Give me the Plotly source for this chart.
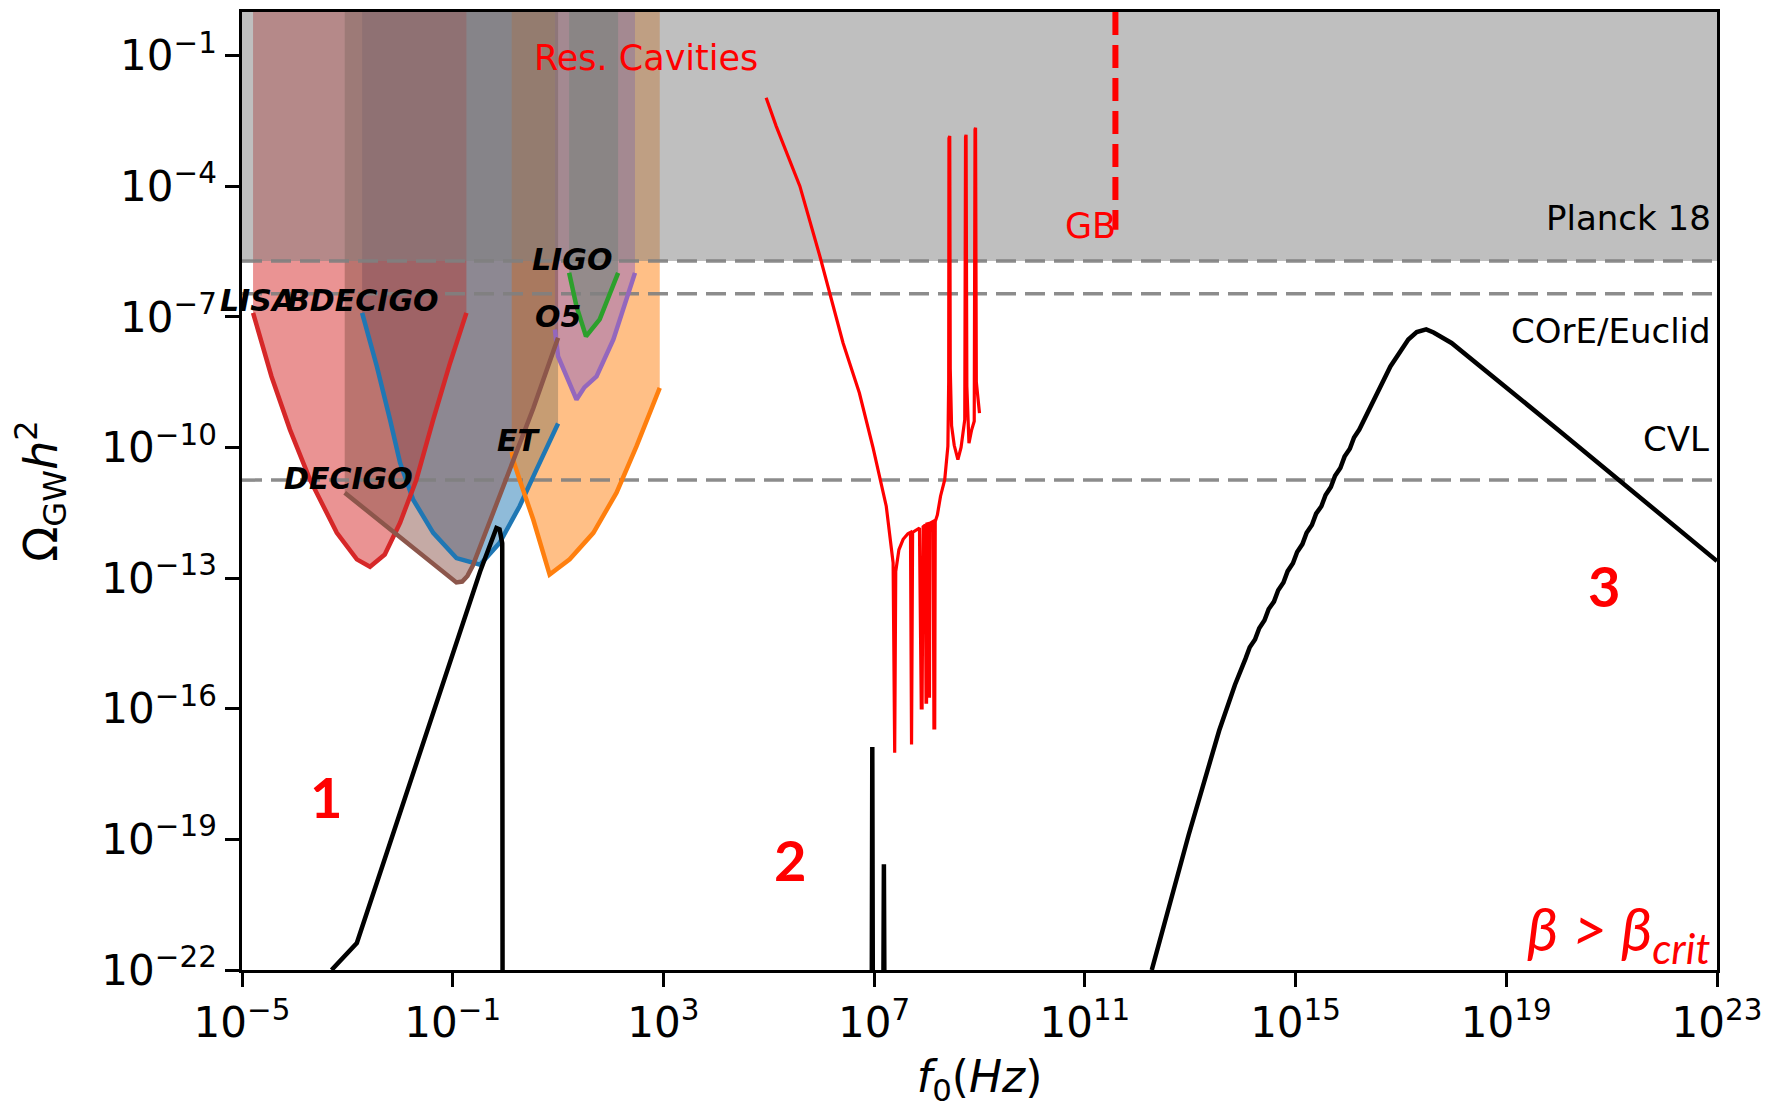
import numpy as np
import plotly.graph_objects as go

# ---------------- data (log10 f [Hz], log10 Omega h^2) ----------------
# detector sensitivity curves
bdecigo_x = [-2.72, -2.44, -2.19, -2.00, -1.75, -1.37, -0.93, -0.48, -0.11, 0.27, 0.59, 1.00]
bdecigo_y = [-6.91, -8.14, -9.36, -10.35, -11.20, -11.96, -12.54, -12.69, -12.19, -11.35, -10.51, -9.45]

et_x = [0.12, 0.15, 0.27, 0.53, 0.84, 1.22, 1.67, 2.11, 2.49, 2.93]
et_y = [-10.10, -10.30, -10.74, -11.66, -12.92, -12.57, -11.96, -11.04, -9.97, -8.63]

ligo_x = [1.21, 1.35, 1.53, 1.73, 1.79, 2.14]
ligo_y = [-5.99, -6.76, -7.45, -7.14, -7.06, -5.99]

lisa_x = [-4.79, -4.44, -4.09, -3.71, -3.20, -2.82, -2.57, -2.29, -2.00, -1.69, -1.37, -1.05, -0.74]
lisa_y = [-6.91, -8.37, -9.59, -10.74, -11.96, -12.57, -12.74, -12.46, -11.73, -10.74, -9.36, -8.06, -6.91]

o5_x = [0.94, 1.00, 1.35, 1.50, 1.73, 2.05, 2.42, 2.46]
o5_y = [-7.29, -7.91, -8.90, -8.62, -8.37, -7.52, -6.14, -5.99]

decigo_x = [-3.05, -0.93, -0.82, -0.72, -0.62, 0.15, 0.53, 1.00]
decigo_y = [-11.04, -13.10, -13.08, -12.95, -12.72, -10.30, -9.10, -7.48]

# horizontal constraints
planck_y = -5.72
core_y = -6.47
cvl_y = -10.75

# GW spectra (black)
spec1_x = [-3.30, -2.82, -0.48, -0.30, -0.17, -0.11, -0.06, -0.054]
spec1_y = [-22.0, -21.38, -12.85, -12.25, -11.85, -11.88, -12.20, -22.0]

spec2_x = [6.955, 6.965, 6.975, 7.175, 7.185, 7.195]
spec2_y = [-22.5, -16.88, -22.5, -22.5, -19.57, -22.5]

spec3_x = [12.27, 12.97, 13.55, 13.85, 14.05,
           14.13, 14.23, 14.31, 14.41, 14.49, 14.59, 14.67, 14.77, 14.85, 14.95,
           15.03, 15.13, 15.21, 15.31, 15.39, 15.49, 15.57, 15.67, 15.75, 15.85,
           15.93, 16.03, 16.11, 16.21,
           16.50, 16.80, 17.14, 17.30, 17.48, 17.62, 17.96, 20.01, 23.0]
spec3_y = [-22.0, -18.9, -16.5, -15.45, -14.85,
           -14.59, -14.41, -14.15, -13.97, -13.71, -13.54, -13.28, -13.10, -12.84, -12.66,
           -12.40, -12.22, -11.96, -11.78, -11.52, -11.35, -11.09, -10.91, -10.65, -10.47,
           -10.21, -10.03, -9.77, -9.59,
           -8.85, -8.14, -7.52, -7.35, -7.29, -7.36, -7.60, -9.62, -12.61]

# resonant cavities (red)
cav_x = [4.95, 5.14, 5.59, 5.97, 6.41, 6.72, 6.98, 7.23, 7.36,
         7.375, 7.39, 7.41, 7.47, 7.55, 7.64, 7.69, 7.70, 7.71, 7.73, 7.77, 7.86,
         7.895, 7.91, 7.93, 7.97, 7.985, 7.995, 8.00, 8.03, 8.04, 8.05, 8.06, 8.09, 8.12, 8.135, 8.15, 8.16,
         8.20, 8.26, 8.34, 8.40, 8.415, 8.42, 8.435, 8.445, 8.47, 8.52, 8.59, 8.65, 8.72,
         8.735, 8.745, 8.76, 8.80, 8.85, 8.90, 8.915, 8.925, 8.94, 8.97, 9.00]
cav_y = [-1.97, -2.62, -4.00, -5.61, -7.60, -8.75, -10.01, -11.35, -12.65,
         -17.01, -17.01, -12.85, -12.35, -12.11, -11.98, -11.95, -16.82, -16.82, -11.95, -11.92, -11.85,
         -15.98, -15.98, -11.82, -11.78, -15.85, -15.85, -11.76, -11.75, -15.71, -15.71, -11.74, -11.72, -11.70, -16.44, -16.44, -11.70,
         -11.55, -11.12, -10.74, -9.97, -8.50, -2.90, -2.85, -8.20, -9.50, -9.95, -10.28, -10.00, -9.36,
         -2.87, -2.82, -8.60, -9.90, -9.60, -9.40, -2.70, -2.66, -8.50, -8.90, -9.21]

gb_x = [11.58, 11.58]
gb_y = [0.0, -5.0]

x_tick_exp = [-5, -1, 3, 7, 11, 15, 19, 23]
y_tick_exp = [-1, -4, -7, -10, -13, -16, -19, -22]

# ---------------- figure ----------------
def p10(a):
    return list(10.0 ** np.asarray(a, dtype=float))

colors = {
    "BDECIGO": "#1f77b4", "ET": "#ff7f0e", "LIGO": "#2ca02c",
    "LISA": "#d62728", "O5": "#9467bd", "DECIGO": "#8c564b",
}
fills = {
    "BDECIGO": "rgba(31,119,180,0.5)", "ET": "rgba(255,127,14,0.5)", "LIGO": "rgba(44,160,44,0.5)",
    "LISA": "rgba(214,39,40,0.5)", "O5": "rgba(148,103,189,0.5)", "DECIGO": "rgba(140,86,75,0.5)",
}
detectors = [
    ("BDECIGO", bdecigo_x, bdecigo_y), ("ET", et_x, et_y), ("LIGO", ligo_x, ligo_y),
    ("LISA", lisa_x, lisa_y), ("O5", o5_x, o5_y), ("DECIGO", decigo_x, decigo_y),
]

fig = go.Figure()

# detector fills (curve up to top of plot)
for name, xs, ys in detectors:
    px = list(xs) + [xs[-1], xs[0]]
    py = list(ys) + [0.0, 0.0]
    fig.add_trace(go.Scatter(x=p10(px), y=p10(py), fill="toself", fillcolor=fills[name],
                             mode="lines", line=dict(width=0), hoverinfo="skip", showlegend=False))

# Planck 18 excluded region
fig.add_trace(go.Scatter(x=p10([-5, 23, 23, -5]), y=p10([planck_y, planck_y, 0, 0]), fill="toself",
                         fillcolor="rgba(128,128,128,0.5)", mode="lines", line=dict(width=0),
                         hoverinfo="skip", showlegend=False))

# dashed constraint lines
for yv in [planck_y, core_y, cvl_y]:
    fig.add_trace(go.Scatter(x=p10([-5, 23]), y=p10([yv, yv]), mode="lines",
                             line=dict(color="rgba(128,128,128,0.9)", width=3.5, dash="20px,9px"),
                             hoverinfo="skip", showlegend=False))

# detector curves
for name, xs, ys in detectors:
    fig.add_trace(go.Scatter(x=p10(xs), y=p10(ys), mode="lines",
                             line=dict(color=colors[name], width=4.5), showlegend=False))

# GW spectra
for xs, ys in [(spec1_x, spec1_y), (spec2_x, spec2_y), (spec3_x, spec3_y)]:
    fig.add_trace(go.Scatter(x=p10(xs), y=p10(ys), mode="lines",
                             line=dict(color="black", width=4.5), showlegend=False))

# resonant cavities
fig.add_trace(go.Scatter(x=p10(cav_x), y=p10(cav_y), mode="lines",
                         line=dict(color="#ff0000", width=3.2), showlegend=False))
# GB
fig.add_trace(go.Scatter(x=p10(gb_x), y=p10(gb_y), mode="lines",
                         line=dict(color="#ff0000", width=6, dash="23px,10px"), showlegend=False))

ann = []
def label(x, y, text, size, color="black", xanchor="left", family="DejaVu Sans",
          weight="normal", style="normal", xref="x"):
    ann.append(dict(x=x, y=y, xref=xref, yref="y", text=text, showarrow=False,
                    xanchor=xanchor, yanchor="middle",
                    font=dict(family=family, size=size, color=color, weight=weight, style=style)))

# detector labels
label((-5.455 + 5) / 28.0, -6.63, "LISA", 30, weight="bold", style="italic", xref="paper")
for txt, x, y in [("BDECIGO", -4.18, -6.63), ("LIGO", 0.46, -5.69),
                  ("O5", 0.52, -6.99), ("DECIGO", -4.24, -10.71), ("ET", -0.20, -9.84)]:
    label(x, y, txt, 30, weight="bold", style="italic")

label(22.92, -4.74, "Planck 18", 34, xanchor="right")
label(22.92, -7.32, "COrE/Euclid", 34, xanchor="right")
label(22.88, -9.80, "CVL", 34, xanchor="right")
label(0.50, -1.05, "Res. Cavities", 35, color="#ff0000")
label(10.58, -4.92, "GB", 35, color="#ff0000")
label(-3.41, -18.02, "1", 56, color="#ff0000", xanchor="center", family="Lato", weight="bold")
label(5.40, -19.46, "2", 56, color="#ff0000", xanchor="center", family="Lato", weight="bold")
label(20.86, -13.18, "3", 56, color="#ff0000", xanchor="center", family="Lato", weight="bold")
label(22.9, -21.15, "β > β<sub>crit</sub>", 60, color="#ff0000", xanchor="right", family="Lato", style="italic")

fig.update_layout(annotations=ann)

axis_common = dict(type="log", showgrid=False, zeroline=False, showline=True, linecolor="black",
                   linewidth=2.5, mirror=True, ticks="outside", ticklen=14, tickwidth=2.5,
                   tickcolor="black", tickfont=dict(family="DejaVu Sans", size=42, color="black"))

fig.update_xaxes(range=[-5, 23], tickvals=p10(x_tick_exp),
                 ticktext=["10<sup>%s</sup>" % (str(e).replace("-", "−")) for e in x_tick_exp],
                 title=dict(text="<i>f</i><sub>0</sub>(<i>Hz</i>)",
                            font=dict(family="DejaVu Sans", size=44, color="black"), standoff=36),
                 **axis_common)
fig.update_yaxes(range=[-22, 0], tickvals=p10(y_tick_exp),
                 ticktext=["10<sup>%s</sup>" % (str(e).replace("-", "−")) for e in y_tick_exp],
                 title=dict(text="Ω<sub>GW</sub><i>h</i><sup>2</sup>",
                            font=dict(family="DejaVu Sans", size=46, color="black"), standoff=30),
                 **axis_common)

fig.update_layout(width=1765, height=1108, margin=dict(l=242, r=48, t=12, b=138, autoexpand=False),
                  paper_bgcolor="white", plot_bgcolor="white", showlegend=False)

fig.write_html("out.html", config={"displayModeBar": False},
               post_script="document.body.style.margin='0';document.body.style.overflow='hidden';")
